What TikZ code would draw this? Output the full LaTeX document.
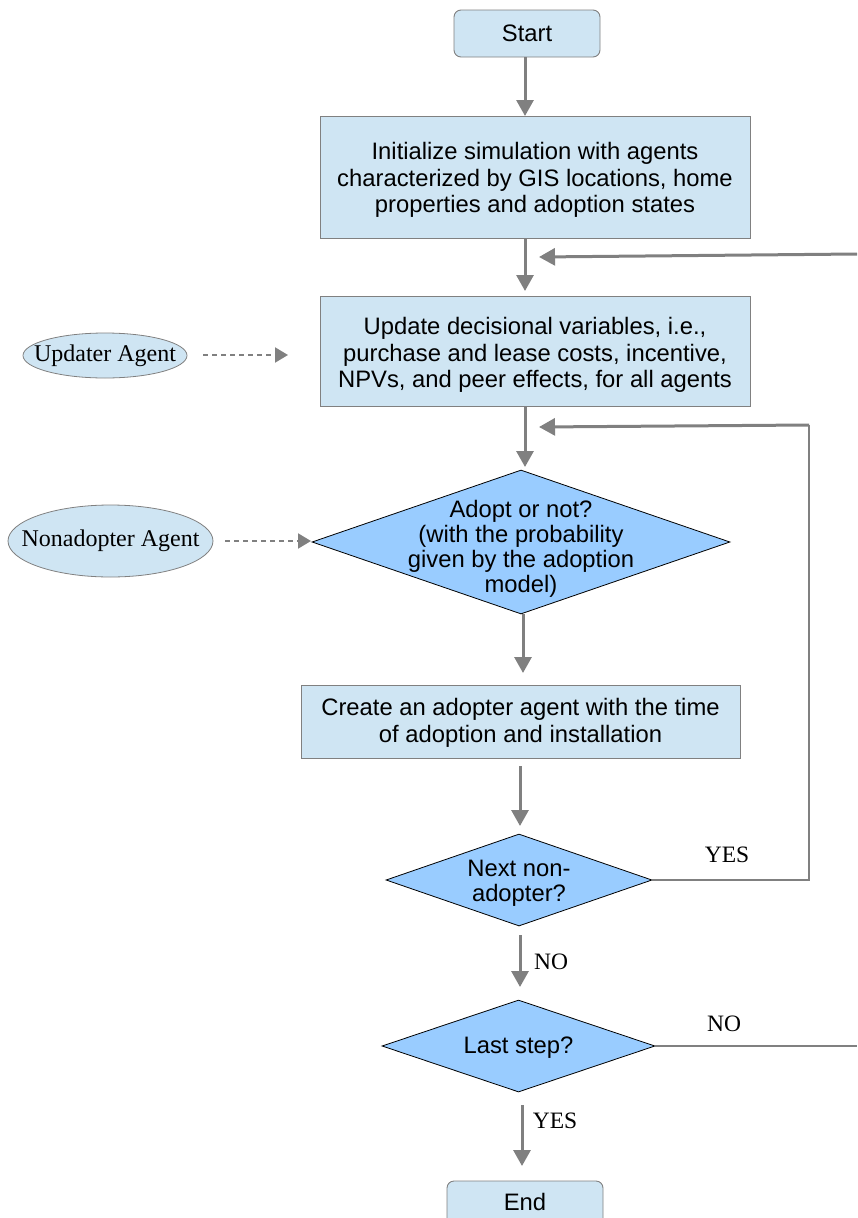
\documentclass[tikz,border=0pt]{standalone}
\usepackage{fontspec}
\setmainfont{Liberation Serif}
\newfontfamily\arial{Liberation Sans}
\usetikzlibrary{shapes.geometric,arrows.meta}
\definecolor{boxblue}{HTML}{CFE5F3}
\definecolor{diablue}{HTML}{99CCFF}
\definecolor{edgegray}{HTML}{808080}
\tikzset{
  boxnode/.style={draw=edgegray, line width=0.9pt, fill=boxblue, inner sep=0pt},
  startend/.style={boxnode, rounded corners=7pt},
  dianode/.style={diamond, draw=black, line width=0.8pt, fill=diablue, inner sep=0pt},
  agentnode/.style={ellipse, draw=edgegray, line width=0.8pt, fill=boxblue, inner sep=0pt},
  agenttext/.style={font=\fontsize{24}{28}\selectfont, inner sep=0pt},
  boxtext/.style={align=center, font=\arial\fontsize{23.8}{26.5}\selectfont, inner sep=0pt},
  diatext/.style={boxtext, font=\arial\fontsize{23.8}{25.2}\selectfont},
  flow/.style={draw=edgegray, line width=3pt, -{Triangle[length=16pt,width=17pt]}},
  plainline/.style={draw=edgegray, line width=2.5pt},
  dasharrow/.style={draw=edgegray, line width=2pt, dash pattern=on 5pt off 4pt, -{Triangle[length=13pt,width=15pt]}},
  lbl/.style={font=\fontsize{23.5}{26}\selectfont, inner sep=0pt}
}
\begin{document}
\begin{tikzpicture}[x=1pt,y=-1pt]
\useasboundingbox (0,0) rectangle (857,1218);
% nodes
\node[startend, minimum width=146pt, minimum height=47pt] (start) at (527,33.5) {};
\node[boxtext] at (start) {Start};
\node[boxnode, minimum width=430pt, minimum height=122pt] (init) at (535,177) {};
\node[boxtext] at (535,180) {Initialize simulation with agents\\characterized by GIS locations, home\\properties and adoption states};
\node[boxnode, minimum width=430pt, minimum height=110pt] (update) at (535,351) {};
\node[boxtext] at (535,355) {Update decisional variables, i.e.,\\purchase and lease costs, incentive,\\NPVs, and peer effects, for all agents};
\node[agentnode, minimum width=164pt, minimum height=45pt] (updater) at (105,355.5) {};
\node[agenttext] at (105,356) {Updater Agent};
\node[dianode, minimum width=418pt, minimum height=144pt] (adopt) at (521,542) {};
\node[diatext] at (521,549) {Adopt or not?\\(with the probability\\given by the adoption\\model)};
\node[agentnode, minimum width=205pt, minimum height=72pt] (nonadopter) at (110.5,541) {};
\node[agenttext] at (110.5,541) {Nonadopter Agent};
\node[boxnode, minimum width=439pt, minimum height=73pt] (create) at (520.5,721.5) {};
\node[boxtext] at (520.5,723) {Create an adopter agent with the time\\of adoption and installation};
\node[dianode, minimum width=266pt, minimum height=92pt] (next) at (519,880) {};
\node[diatext] at (519,883) {Next non-\\adopter?};
\node[dianode, minimum width=273pt, minimum height=92pt] (last) at (518.5,1046) {};
\node[boxtext] at (518.5,1048) {Last step?};
\node[startend, minimum width=156pt, minimum height=47pt] (endn) at (525,1204.5) {};
\node[boxtext] at (525,1202) {End};
% connector coordinates
\coordinate (a1s) at (525,57);   \coordinate (a1e) at (525,116);
\coordinate (a2s) at (525,238);  \coordinate (a2e) at (525,291);
\coordinate (a3s) at (525,406);  \coordinate (a3e) at (525,467);
\coordinate (a4s) at (523,614);  \coordinate (a4e) at (523,673);
\coordinate (a5s) at (520,766);  \coordinate (a5e) at (520,826);
\coordinate (a6s) at (520,935);  \coordinate (a6e) at (520,987);
\coordinate (a7s) at (522,1105); \coordinate (a7e) at (522,1166);
\coordinate (rightin) at (857,254);
\coordinate (rightinend) at (539,257);
\coordinate (loopcorner) at (809,425);
\coordinate (loopend) at (539,427);
\coordinate (rightout) at (857,1046);
\coordinate (upd) at (203,355);  \coordinate (upde) at (288,355);
\coordinate (nad) at (225,541);  \coordinate (nade) at (311,541);
% connectors
\draw[flow] (a1s) -- (a1e);
\draw[flow] (a2s) -- (a2e);
\draw[flow] (a3s) -- (a3e);
\draw[flow] (a4s) -- (a4e);
\draw[flow] (a5s) -- (a5e);
\draw[flow] (a6s) -- (a6e);
\draw[flow] (a7s) -- (a7e);
\draw[flow] (rightin) -- (rightinend);
\draw[plainline] (next.east) -- (next.east -| loopcorner) -- (loopcorner);
\draw[flow] (loopcorner) -- (loopend);
\draw[plainline] (last.east) -- (rightout);
\draw[dasharrow] (upd) -- (upde);
\draw[dasharrow] (nad) -- (nade);
% labels
\node[lbl] at (727,855) {YES};
\node[lbl] at (551,962) {NO};
\node[lbl] at (724,1024) {NO};
\node[lbl] at (555,1121) {YES};
\end{tikzpicture}
\end{document}
